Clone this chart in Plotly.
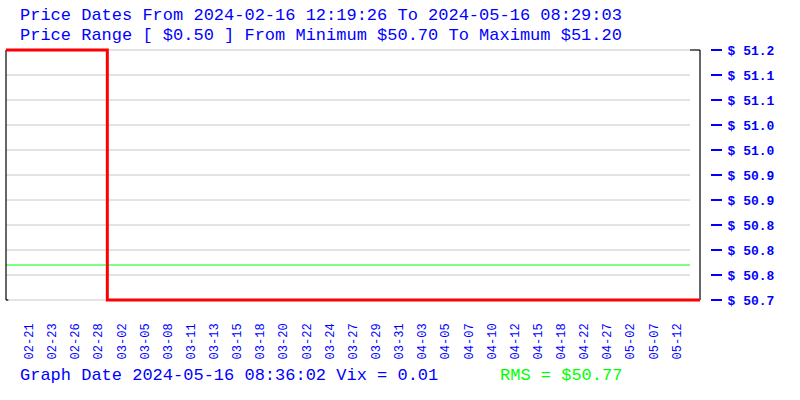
import plotly.graph_objects as go

# ---- data ----
x_tick_pos = list(range(1, 30))
x_tick_labels = ["02-21", "02-23", "02-26", "02-28", "03-02", "03-05", "03-08", "03-11",
                 "03-13", "03-15", "03-18", "03-20", "03-22", "03-24", "03-27", "03-29",
                 "03-31", "04-03", "04-05", "04-07", "04-10", "04-12", "04-15", "04-18",
                 "04-22", "04-27", "05-02", "05-07", "05-12"]
y_tick_vals = [51.2, 51.15, 51.1, 51.05, 51.0, 50.95, 50.9, 50.85, 50.8, 50.75, 50.7]
y_tick_text = ["$ 51.2", "$ 51.1", "$ 51.1", "$ 51.0", "$ 51.0", "$ 50.9", "$ 50.9",
               "$ 50.8", "$ 50.8", "$ 50.8", "$ 50.7"]
price_x = [0, 4.38, 30]
price_y = [51.20, 50.70, 50.70]
rms_value = 50.77
price_min, price_max = 50.70, 51.20
x_start, x_end = 0, 30
grid_end = 29.568

title1 = "Price Dates From 2024-02-16 12:19:26 To 2024-05-16 08:29:03"
title2 = "Price Range [ $0.50 ] From Minimum $50.70 To Maximum $51.20"
footer1 = "Graph Date 2024-05-16 08:36:02 Vix = 0.01"
footer2 = "RMS = $50.77"

# ---- layout geometry ----
W, H = 800, 400
ML, MR, MT, MB = 4, 90, 48, 98
PW = W - ML - MR
PH = H - MT - MB
px_per_x = 694 / 30.0
xpad = 2 / px_per_x
ypad = 2 / 500.0

BLUE = "#0000ff"
MONO = "Liberation Mono"

def px(xp):
    return (xp - ML) / PW

def py(yp):
    return (H - MB - yp) / PH

fig = go.Figure()

fig.add_trace(go.Scatter(
    x=price_x, y=price_y, mode="lines", line=dict(color="#ff0000", width=3, shape="hv"),
    hoverinfo="skip", showlegend=False,
))

shapes = []
for v in y_tick_vals:
    shapes.append(dict(type="line", xref="x", yref="y", x0=x_start, x1=grid_end, y0=v, y1=v,
                       line=dict(color="#c8c8c8", width=1), layer="below"))
shapes.append(dict(type="line", xref="x", yref="y", x0=x_start, x1=grid_end, y0=rms_value, y1=rms_value,
                   line=dict(color="#00ff00", width=1.2), layer="below"))
# frame
shapes.append(dict(type="line", xref="x", yref="y", x0=x_start, x1=x_start, y0=price_min, y1=price_max,
                   line=dict(color="black", width=1.2), layer="below"))
shapes.append(dict(type="line", xref="x", yref="y", x0=x_end, x1=x_end, y0=price_min, y1=price_max,
                   line=dict(color="black", width=1.2), layer="below"))
shapes.append(dict(type="line", xref="x", yref="y", x0=grid_end, x1=x_end, y0=price_max, y1=price_max,
                   line=dict(color="black", width=1.2), layer="below"))
shapes.append(dict(type="line", xref="x", yref="y", x0=x_start, x1=x_start + 0.1, y0=price_min, y1=price_min,
                   line=dict(color="black", width=1.2), layer="below"))

annotations = [
    dict(text=title1, xref="paper", yref="paper", x=px(18), y=py(15), xanchor="left", yanchor="middle",
         showarrow=False, font=dict(family=MONO, size=17, color=BLUE)),
    dict(text=title2, xref="paper", yref="paper", x=px(18), y=py(35), xanchor="left", yanchor="middle",
         showarrow=False, font=dict(family=MONO, size=17, color=BLUE)),
    dict(text=footer1, xref="paper", yref="paper", x=px(18), y=py(375), xanchor="left", yanchor="middle",
         showarrow=False, font=dict(family=MONO, size=17, color=BLUE)),
    dict(text=footer2, xref="paper", yref="paper", x=px(498), y=py(375), xanchor="left", yanchor="middle",
         showarrow=False, font=dict(family=MONO, size=17, color="#00ff00")),
]

fig.update_layout(
    width=W, height=H,
    margin=dict(l=ML, r=MR, t=MT, b=MB, autoexpand=False),
    paper_bgcolor="white", plot_bgcolor="white",
    showlegend=False,
    shapes=shapes,
    annotations=annotations,
    xaxis=dict(
        domain=[0, 698 / PW], range=[x_start - xpad, x_end + xpad],
        showgrid=False, zeroline=False, showline=False,
        tickmode="array", tickvals=x_tick_pos, ticktext=x_tick_labels,
        tickangle=-90, ticks="", ticklabelstandoff=18,
        tickfont=dict(family=MONO, size=12, color=BLUE),
        fixedrange=True,
    ),
    yaxis=dict(
        side="right", anchor="free", position=1,
        range=[price_min - ypad, price_max + ypad],
        showgrid=False, zeroline=False, showline=False,
        tickmode="array", tickvals=y_tick_vals, ticktext=y_tick_text,
        ticks="outside", ticklen=11, tickwidth=1.5, tickcolor=BLUE,
        ticklabelstandoff=3,
        tickfont=dict(family=MONO, size=13, color=BLUE, weight="bold"),
        fixedrange=True,
    ),
)

fig.write_html("out.html", config={"displayModeBar": False},
               post_script="document.body.style.margin='0';document.body.style.overflow='hidden';")
